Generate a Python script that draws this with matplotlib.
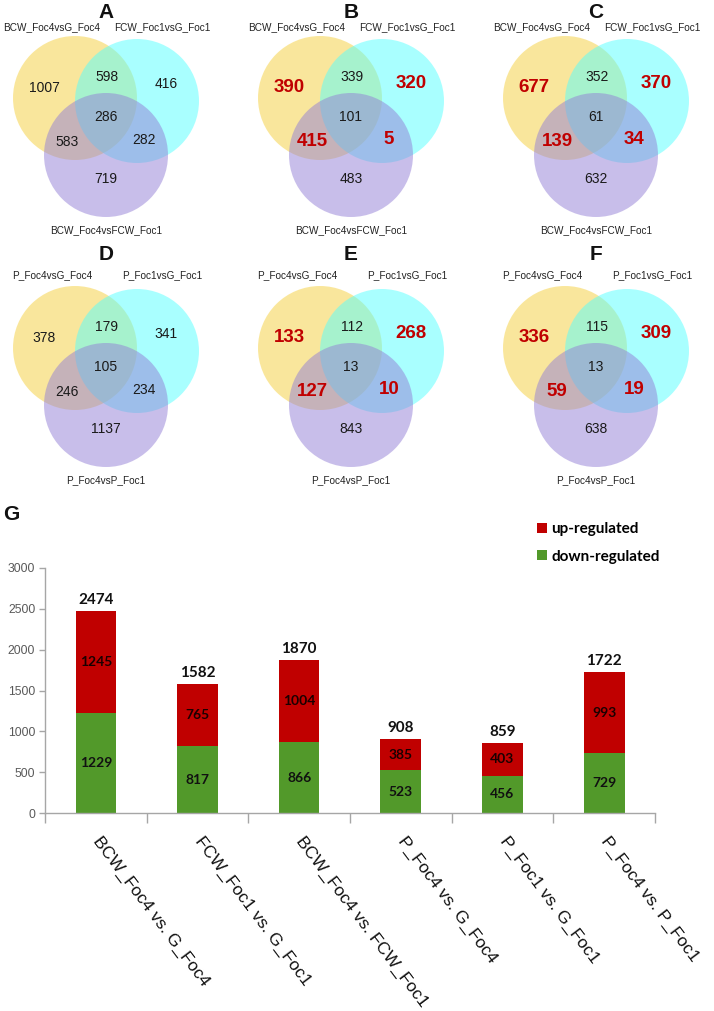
import matplotlib
matplotlib.use('Agg')
import matplotlib.pyplot as plt
from matplotlib.patches import Circle
import numpy as np

W, H = 714, 1011

# ---------------- Venn data ----------------
panel_letters = ['A', 'B', 'C', 'D', 'E', 'F']
labels_BCW = ['BCW_Foc4vsG_Foc4', 'FCW_Foc1vsG_Foc1', 'BCW_Foc4vsFCW_Foc1']
labels_P = ['P_Foc4vsG_Foc4', 'P_Foc1vsG_Foc1', 'P_Foc4vsP_Foc1']
# region order: only1, 1&2, only2, all, 1&3, 2&3, only3
counts_A = [1007, 598, 416, 286, 583, 282, 719]
counts_B = [390, 339, 320, 101, 415, 5, 483]
counts_C = [677, 352, 370, 61, 139, 34, 632]
counts_D = [378, 179, 341, 105, 246, 234, 1137]
counts_E = [133, 112, 268, 13, 127, 10, 843]
counts_F = [336, 115, 309, 13, 59, 19, 638]
highlighted = [False, True, True, False, True, True]

# ---------------- Bar data ----------------
categories = ['BCW_Foc4 vs. G_Foc4', 'FCW_Foc1 vs. G_Foc1', 'BCW_Foc4 vs. FCW_Foc1',
              'P_Foc4 vs. G_Foc4', 'P_Foc1 vs. G_Foc1', 'P_Foc4 vs. P_Foc1']
down_regulated = [1229, 817, 866, 523, 456, 729]
up_regulated = [1245, 765, 1004, 385, 403, 993]
totals = [2474, 1582, 1870, 908, 859, 1722]
yticks = [0, 500, 1000, 1500, 2000, 2500, 3000]

all_counts = [counts_A, counts_B, counts_C, counts_D, counts_E, counts_F]
all_labels = [labels_BCW] * 3 + [labels_P] * 3

fig = plt.figure(figsize=(W / 100, H / 100), dpi=100)
fig.patch.set_facecolor('white')

ov = fig.add_axes([0, 0, 1, 1])
ov.set_xlim(0, W)
ov.set_ylim(H, 0)
ov.axis('off')

ARIAL = 'Liberation Sans'
circle_cols = ['#F5CF3A', '#55FFFF', '#937FD6']
circ_pos = [(75, 98), (137, 101), (106, 155)]
R = 62
num_pos = [(44, 88), (107, 77), (166, 84), (106, 117), (67, 142), (144, 140), (106, 179)]
bold_regions = [0, 2, 4, 5]
col_off = [0, 245, 490]
row_off = [0, 250]
title_y = [12.5, 254.5]
toplab_y = [27, 275]

for k in range(6):
    ox = col_off[k % 3]
    oy = row_off[k // 3]
    for (cx, cy), c in zip(circ_pos, circle_cols):
        ov.add_patch(Circle((ox + cx, oy + cy), R, facecolor=c, alpha=0.5,
                            edgecolor='none', zorder=1))
    ov.text(ox + 106, title_y[k // 3], panel_letters[k], ha='center', va='center',
            fontsize=15, fontweight='bold', family=ARIAL, color='#111111')
    labs = all_labels[k]
    ov.text(ox + 52, toplab_y[k // 3], labs[0], ha='center', va='center',
            fontsize=7.2, family=ARIAL, color='#222222')
    ov.text(ox + 162, toplab_y[k // 3], labs[1], ha='center', va='center',
            fontsize=7.2, family=ARIAL, color='#222222')
    ov.text(ox + 106, oy + 230, labs[2], ha='center', va='center',
            fontsize=7.2, family=ARIAL, color='#222222')
    for j, (val, (px, py)) in enumerate(zip(all_counts[k], num_pos)):
        if highlighted[k] and j in bold_regions:
            ov.text(ox + px, oy + py, str(val), ha='center', va='center',
                    fontsize=13.5, fontweight='bold', family=ARIAL, color='#C00000', zorder=3)
        else:
            ov.text(ox + px, oy + py, str(val), ha='center', va='center',
                    fontsize=10, family=ARIAL, color='#1a1a1a', zorder=3)

ov.text(11, 515, 'G', ha='center', va='center', fontsize=15, fontweight='bold',
        family=ARIAL, color='#111111')

# ---------------- Bar chart ----------------
red = '#C00000'
green = '#52992A'
gray = '#A6A6A6'
ax = fig.add_axes([45 / W, (H - 813) / H, 610 / W, 245 / H])
x = np.arange(len(categories)) + 0.5
b_down = ax.bar(x, down_regulated, 0.4, color=green, label='down-regulated', zorder=2)
b_up = ax.bar(x, up_regulated, 0.4, bottom=down_regulated, color=red,
              label='up-regulated', zorder=2)
ax.set_xlim(0, len(categories))
ax.set_ylim(0, 3000)
ax.set_yticks(yticks)
ax.set_xticks(np.arange(len(categories) + 1))
ax.set_xticklabels([])
for s in ['top', 'right']:
    ax.spines[s].set_visible(False)
for s in ['left', 'bottom']:
    ax.spines[s].set_color(gray)
    ax.spines[s].set_linewidth(1)
ax.tick_params(axis='x', length=7, color=gray, width=1)
ax.tick_params(axis='y', length=4, color=gray, width=1, labelsize=8.8,
               labelcolor='#595959', pad=3)
for t in ax.get_yticklabels():
    t.set_family(ARIAL)
ax.set_facecolor('none')

CAL = 'Lato'
for xi, d, u, t in zip(x, down_regulated, up_regulated, totals):
    ax.text(xi, d / 2, str(d), ha='center', va='center', fontsize=10,
            fontweight='bold', family=CAL, color='#111111', zorder=3)
    ax.text(xi, d + u / 2, str(u), ha='center', va='center', fontsize=10,
            fontweight='bold', family=CAL, color='#1a0000', zorder=3)
    ax.annotate(str(t), (xi, d + u), xytext=(0, 3), textcoords='offset points',
                ha='center', va='bottom', fontsize=11, fontweight='bold',
                family=CAL, color='#111111')

for xi, lab in zip(x, categories):
    ax.text(xi + 0.06, -21 / 245, lab, transform=ax.get_xaxis_transform(),
            rotation=-53, rotation_mode='anchor', ha='left', va='top',
            fontsize=12.5, family=ARIAL, color='#111111')

leg = ax.legend(handles=[b_up, b_down], loc='upper left',
                bbox_to_anchor=(537 / W, 1 - 522 / H), bbox_transform=fig.transFigure,
                frameon=False, borderpad=0, borderaxespad=0, handlelength=0.65,
                handleheight=0.65, handletextpad=0.3, labelspacing=0.9,
                prop={'family': CAL, 'weight': 'bold', 'size': 11})

fig.savefig('out.png', dpi=100, facecolor='white')
